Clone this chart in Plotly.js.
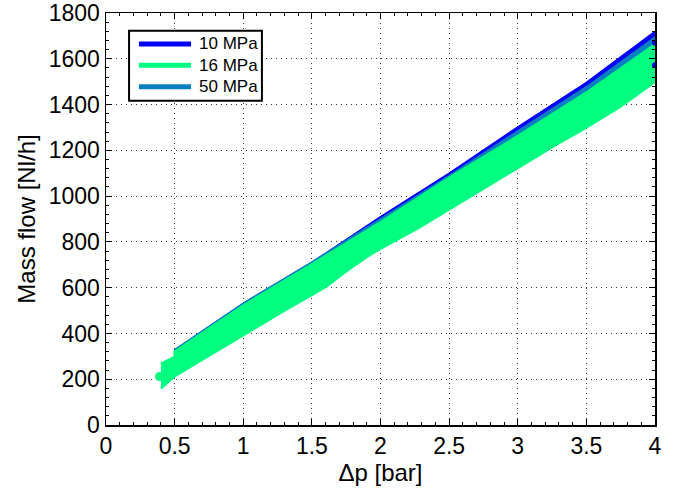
<!DOCTYPE html>
<html>
<head>
<meta charset="utf-8">
<script src="https://cdn.plot.ly/plotly-3.0.1.min.js"></script>
<style>html,body{margin:0;padding:0;background:#fff;}#chart{width:681px;height:489px;}</style>
</head>
<body>
<div id="chart"></div>
<script>
// Δp [bar] sample positions and band edges (Mass flow [Nl/h])
const dp10 = [0.5, 1, 1.5, 2, 2.5, 3, 3.5, 4];
const upper10 = [324, 528, 708, 907, 1098, 1300, 1494, 1717];
const lower10 = [280, 480, 660, 860, 1050, 1240, 1430, 1640];

const dp50 = [0.5, 1, 1.5, 2, 2.5, 3, 3.5, 4];
const upper50 = [326, 530, 710, 899, 1087, 1282, 1475, 1692];
const lower50 = [270, 470, 650, 840, 1020, 1210, 1400, 1600];

const dp16Upper = [0.4, 0.5, 0.5, 1, 1.5, 2, 2.5, 3, 3.5, 4];
const upper16 = [268, 296, 320, 522, 702, 886, 1080, 1262, 1452, 1663];
const dp16Lower = [0.4, 0.5, 1, 1.28, 1.6, 1.78, 1.92, 2, 2.28, 2.5, 2.78, 3, 3.28, 3.5, 3.75, 4];
const lower16 = [160, 213, 393, 493, 603, 685, 742, 770, 862, 942, 1043, 1123, 1225, 1300, 1392, 1500];

const endX10 = [4, 4];
const endY10 = [1670, 1572];
const startX16 = [0.39];
const startY16 = [212];

const names = ['10 MPa', '16 MPa', '50 MPa'];
const colors = {'10 MPa': '#0000FF', '16 MPa': '#00FF80', '50 MPa': '#0A80C2'};

function band(xu, up, xl, lo, color) {
  return {
    type: 'scatter', mode: 'lines',
    x: xu.concat(xl.slice().reverse()),
    y: up.concat(lo.slice().reverse()),
    fill: 'toself', fillcolor: color,
    line: {color: color, width: 2.5, shape: 'linear'},
    showlegend: false, hoverinfo: 'skip'
  };
}

const data = [
  band(dp10, upper10, dp10, lower10, colors['10 MPa']),
  band(dp50, upper50, dp50, lower50, colors['50 MPa']),
  band(dp16Upper, upper16, dp16Lower, lower16, colors['16 MPa']),
  {type: 'scatter', mode: 'markers', x: endX10, y: endY10,
   marker: {color: colors['10 MPa'], size: 6}, showlegend: false, hoverinfo: 'skip'},
  {type: 'scatter', mode: 'markers', x: startX16, y: startY16,
   marker: {color: colors['16 MPa'], size: 9}, showlegend: false, hoverinfo: 'skip'}
];

// legend drawn as a boxed key in paper coordinates
const legX0 = 0.042, legX1 = 0.284, legY1 = 0.957, legY0 = 0.787;
const keyX0 = 0.060, keyX1 = 0.155, textX = 0.166;
const keyY = [0.925, 0.873, 0.821];
const shapes = [{type: 'rect', xref: 'paper', yref: 'paper', x0: legX0, x1: legX1, y0: legY0, y1: legY1,
  line: {color: '#000', width: 2}, fillcolor: '#fff', layer: 'above'}];
const annotations = [];
names.forEach((n, i) => {
  shapes.push({type: 'line', xref: 'paper', yref: 'paper', x0: keyX0, x1: keyX1, y0: keyY[i], y1: keyY[i],
    line: {color: colors[n], width: 5}, layer: 'above'});
  annotations.push({xref: 'paper', yref: 'paper', x: textX, y: keyY[i], xanchor: 'left', yanchor: 'middle',
    text: n, showarrow: false, font: {family: 'Liberation Sans, Arial, sans-serif', size: 17, color: '#000'}});
});

const axisCommon = {
  showline: true, linecolor: '#000', linewidth: 1.5, mirror: 'ticks',
  ticks: 'inside', ticklen: 6, tickwidth: 1, tickcolor: '#000',
  showgrid: true, gridcolor: '#333', gridwidth: 1, griddash: '1px,4px',
  zeroline: false, ticklabeloverflow: 'allow',
  tickfont: {family: 'Liberation Sans, Arial, sans-serif', size: 23, color: '#000'}
};

const layout = {
  width: 681, height: 489,
  margin: {l: 106, r: 26, t: 13, b: 64},
  paper_bgcolor: '#fff', plot_bgcolor: '#fff',
  font: {family: 'Liberation Sans, Arial, sans-serif', color: '#000'},
  xaxis: Object.assign({}, axisCommon, {
    range: [0, 4], dtick: 0.5, tick0: 0,
    minor: {ticks: 'inside', ticklen: 3, dtick: 0.1, tickcolor: '#000', showgrid: false},
    title: {text: 'Δp [bar]', font: {size: 24, color: '#000'}, standoff: 2}
  }),
  yaxis: Object.assign({}, axisCommon, {
    range: [0, 1800], dtick: 200, tick0: 0,
    minor: {ticks: 'inside', ticklen: 3, dtick: 40, tickcolor: '#000', showgrid: false},
    title: {text: 'Mass flow [Nl/h]', font: {size: 24, color: '#000'}, standoff: 6}
  }),
  shapes: shapes,
  annotations: annotations,
  showlegend: false
};

Plotly.newPlot('chart', data, layout, {displayModeBar: false, staticPlot: true});
</script>
</body>
</html>
